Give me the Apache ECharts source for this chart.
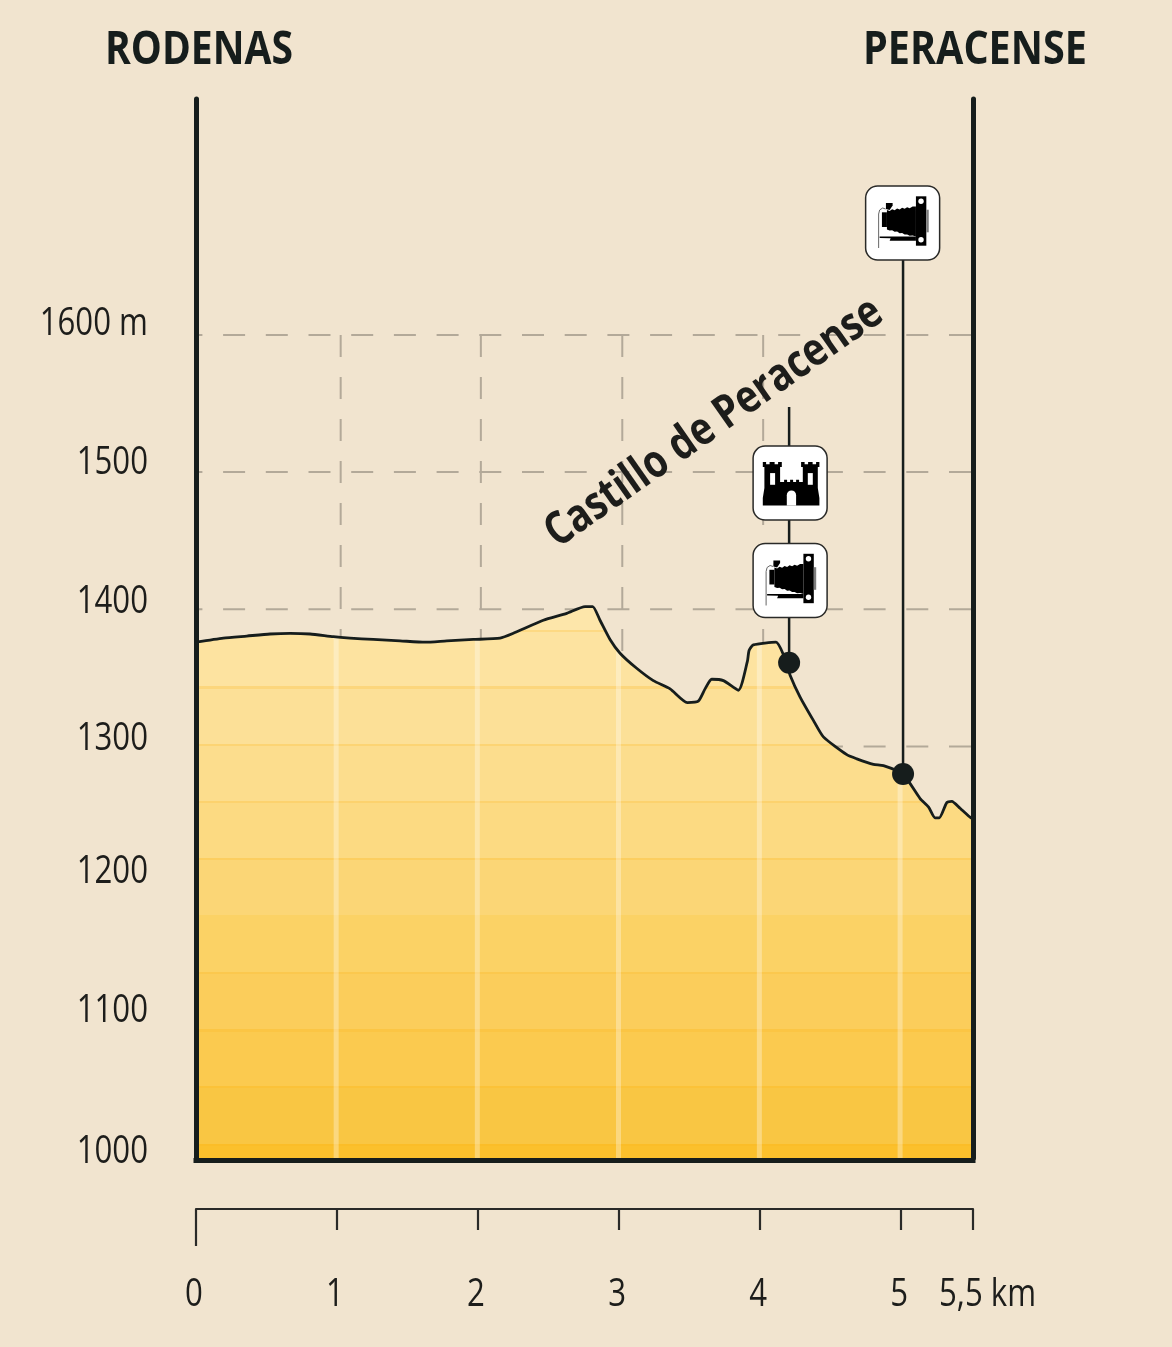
<!DOCTYPE html>
<html>
<head>
<meta charset="utf-8">
<title>Rodenas - Peracense</title>
<script src="https://cdn.jsdelivr.net/npm/echarts@6/dist/echarts.min.js"></script>
<style>
  html, body { margin: 0; padding: 0; background: #f1e4cf; }
  #chart { width: 1172px; height: 1347px; }
</style>
</head>
<body>
<div id="chart"></div>
<script>
// profile: [km, metres]
const profile = [
  [0, 1376], [0.194, 1379], [0.36, 1380.5], [0.525, 1382], [0.667, 1382.5], [0.809, 1382],
  [0.974, 1380], [1.092, 1379], [1.257, 1378], [1.447, 1377], [1.624, 1376], [1.778, 1377],
  [1.967, 1378], [2.156, 1379], [2.25, 1382.5], [2.463, 1392], [2.629, 1397], [2.759, 1402],
  [2.813, 1402], [2.865, 1392], [2.936, 1378], [3.007, 1368], [3.125, 1357], [3.243, 1348],
  [3.362, 1342], [3.484, 1332], [3.562, 1333], [3.61, 1342], [3.657, 1349], [3.74, 1348],
  [3.846, 1341], [3.91, 1362], [3.922, 1370], [3.952, 1374], [4.113, 1376], [4.165, 1367],
  [4.213, 1352], [4.284, 1336], [4.378, 1319], [4.449, 1307], [4.615, 1294], [4.686, 1291],
  [4.804, 1287], [4.875, 1286], [5.012, 1280], [5.135, 1262], [5.194, 1256], [5.241, 1248],
  [5.271, 1248], [5.324, 1259], [5.36, 1260], [5.418, 1255], [5.494, 1248], [5.51, 1247]
]
const kmEnd = 5.51 // the right wall sits a little past 5,5 at the drawing's scale
const altTop = 1772
const altTicks = [1000, 1100, 1200, 1300, 1400, 1500, 1600]
const altLabels = ['1000', '1100', '1200', '1300', '1400', '1500', '1600 m']
const altLabelNudge = [-6, -10, -12, -8, -7, -9, -11] // the labels do not sit evenly in the original
const kmTicks = [1, 2, 3, 4, 5, kmEnd]
const kmLabelValues = [0, 1, 2, 3, 4, 5]
const gridAlts = [1300, 1400, 1500, 1600]
const gridKms = [1.026, 2.02, 3.023, 4.022]
const stripeKms = [0.994, 1.995, 2.996, 3.995, 4.993]
const stripeTops = [1380, 1378, 1369, 1375, 1281]
const bandEdges = [1384, 1343, 1301, 1259.5, 1218, 1176.5, 1135, 1093, 1052, 1009.5]
const bandColors = ['#fde6aa', '#fde3a0', '#fce097', '#fcdd8d', '#fcda82', '#fbd676', '#fbd265', '#fbcd5b', '#fbca4f', '#f9c643', '#fbc02c']
const bandLines = ['#fdd983', '#fcd67c', '#fcd474', '#fcd26e', '#fcce60', '#fbd265', '#fbc84e', '#fbc544', '#fbc238', '#fbbd28']
// stems and pictograms
const stems = [
  { km: 4.206, from: 1547.5, to: 1361 },
  { km: 5.014, from: 1681.6, to: 1280 }
]
const pictos = [
  [4.213, 1492, 'castle'],
  [4.213, 1421, 'camera'],
  [5.011, 1681.6, 'camera']
]

const ink = '#161d1c'
const textColor = '#1d1d1b'
const font = '"Open Sans"'
const labelFont = '400 39px ' + font
const labelScale = 0.8

// gradient of the filled area, with thin darker lines between the steps
function areaGradient () {
  const peak = Math.max(...profile.map(p => p[1]))
  const frac = v => (peak - v) / (peak - 1000)
  const stops = [{ offset: 0, color: bandColors[0] }]
  bandEdges.forEach((edge, i) => {
    const f = frac(edge)
    stops.push({ offset: f - 0.002, color: bandColors[i] })
    stops.push({ offset: f - 0.002, color: bandLines[i] })
    stops.push({ offset: f + 0.002, color: bandLines[i] })
    stops.push({ offset: f + 0.002, color: bandColors[i + 1] })
  })
  stops.push({ offset: 1, color: bandColors[bandColors.length - 1] })
  return new echarts.graphic.LinearGradient(0, 0, 0, 1, stops)
}

function rect (x, y, w, h, fill) {
  return { type: 'rect', shape: { x: x, y: y, width: w, height: h }, style: { fill: fill } }
}
function dot (cx, cy, r, fill) {
  return { type: 'circle', shape: { cx: cx, cy: cy, r: r }, style: { fill: fill } }
}
function poly (points, fill) {
  return { type: 'polygon', shape: { points: points }, style: { fill: fill } }
}

const castleIcon = [
  poly([[-27.3, -21], [-24, -21], [-24, -18.8], [-20.5, -18.8], [-20.5, -21], [-15.5, -21], [-15.5, -18.8], [-12, -18.8], [-12, -21], [-8.3, -21], [-8.3, -16], [-10, -16], [-10, -1],
    [-6, -1], [-6, -3.3], [-3, -3.3], [-3, -1], [0, -1], [0, -3.3], [3, -3.3], [3, -1], [6, -1], [6, -3.3], [9, -3.3], [9, -1], [12.7, -1],
    [12.7, -16], [11, -16], [11, -21], [14.5, -21], [14.5, -18.8], [18, -18.8], [18, -21], [22.5, -21], [22.5, -18.8], [26, -18.8], [26, -21], [29.3, -21], [29.3, -16], [27.7, -16],
    [27.7, 5], [29.3, 15], [29.3, 22.3], [-27.3, 22.3], [-27.3, 15], [-25.7, 5], [-25.7, -16], [-27.3, -16]], '#000'),
  rect(-20, -10, 5, 11.7, '#fff'),
  rect(17.7, -10, 5, 11.7, '#fff'),
  rect(-3.3, 12, 9.3, 10.5, '#fff'),
  dot(1.35, 12, 4.65, '#fff')
]
const cameraIcon = [
  rect(13.3, -26.7, 10.4, 49.4, '#000'),
  rect(23.7, -13.3, 2.4, 22.6, '#7d7d7d'),
  dot(18.4, -21.7, 2.7, '#fff'),
  dot(18.4, 16.7, 2.7, '#fff'),
  poly([[-15.7, -13], [-13, -12], [-10.5, -13.8], [-8, -12.8], [-5.5, -14.6], [-3, -13.6], [-0.5, -15.2], [2, -14.2], [4.5, -15.8], [7, -14.8], [10, -16.4], [13.3, -16.4],
    [13.3, 13.5], [10, 12.5], [7, 12.8], [4.5, 11.4], [2, 11.6], [-0.5, 10], [-3, 10.2], [-5.5, 8.6], [-8, 8.8], [-10.5, 7.2], [-13, 7.4], [-15.7, 6.5]], '#000'),
  rect(-20.7, -10.7, 5, 14.7, '#000'),
  poly([[-16.7, -20], [-10, -20], [-10, -17.5], [-13, -13], [-16.7, -14]], '#000'),
  poly([[-23, 13.5], [13.3, 13.5], [13.3, 17.7], [-13, 17.7], [-12, 15.2], [-23, 15]], '#000'),
  { type: 'polyline', shape: { points: [[-24, 25], [-24, -9], [-23, -13], [-20, -15], [-17, -14]] }, style: { fill: null, stroke: '#666', lineWidth: 1 } }
]

function renderPicto (params, api) {
  const c = api.coord([api.value(0), api.value(1)])
  const kind = pictos[params.dataIndex][2]
  return {
    type: 'group',
    x: c[0],
    y: c[1],
    children: [{
      type: 'rect',
      shape: { x: -37, y: -37, width: 74, height: 74, r: 12 },
      style: { fill: '#fff', stroke: '#2a2a28', lineWidth: 1.5 }
    }].concat(kind === 'castle' ? castleIcon : cameraIcon)
  }
}

// narrow tick labels: the installed fonts are too wide, so they are squeezed here
function narrowText (x, y, text, align) {
  return {
    type: 'text',
    x: x,
    y: y,
    scaleX: labelScale,
    style: { text: text, font: labelFont, fill: textColor, align: align, verticalAlign: 'middle' }
  }
}
function renderAltLabel (params, api) {
  const c = api.coord([0, api.value(0)])
  return narrowText(c[0] - 48, c[1] + altLabelNudge[params.dataIndex], altLabels[params.dataIndex], 'right')
}
function renderKmLabel (params, api) {
  const c = api.coord([api.value(0), 1000])
  return narrowText(c[0] - 2, c[1] + 137, String(kmLabelValues[params.dataIndex]), 'center')
}
function renderEndLabel (params, api) {
  const c = api.coord([api.value(0), 1000])
  return narrowText(c[0] - 34, c[1] + 137, '5,5 km', 'left')
}

function labelSeries (data, renderItem) {
  return { type: 'custom', data: data, z: 8, silent: true, animation: false, clip: false, renderItem: renderItem }
}

function plainLine (data, z, lineStyle) {
  return {
    type: 'line',
    data: data,
    z: z,
    symbol: 'none',
    silent: true,
    animation: false,
    clip: false,
    lineStyle: lineStyle
  }
}

const series = []
// dashed grid, under the fill
gridAlts.forEach(a => {
  series.push(plainLine([[0, a], [kmEnd, a]], 0, { color: '#b3a999', width: 2, type: [22, 20.7], dashOffset: 15.6 }))
})
gridKms.forEach(k => {
  series.push(plainLine([[k, 1600], [k, 1000]], 0, { color: '#b3a999', width: 2, type: [22, 20] }))
})
// fill
series.push({
  type: 'line',
  data: profile,
  z: 1,
  symbol: 'none',
  silent: true,
  animation: false,
  lineStyle: { width: 0 },
  areaStyle: { color: areaGradient(), opacity: 1 }
})
// light stripes at each km
stripeKms.forEach((k, i) => {
  series.push(plainLine([[k, stripeTops[i]], [k, 1000]], 2, { color: 'rgba(255,255,255,0.32)', width: 5 }))
})
// profile line
series.push(Object.assign(plainLine(profile, 3, { color: ink, width: 2.8, join: 'round' }), { smooth: 0.2 }))
// stems, pictograms and dots
stems.forEach(s => {
  series.push(plainLine([[s.km, s.from], [s.km, s.to]], 4, { color: ink, width: 2.5 }))
})
series.push({
  type: 'custom',
  data: pictos.map(p => [p[0], p[1]]),
  z: 5,
  silent: true,
  animation: false,
  clip: false,
  renderItem: renderPicto
})
series.push({
  type: 'scatter',
  data: stems.map(s => [s.km, s.to]),
  z: 6,
  symbolSize: 22,
  silent: true,
  animation: false,
  itemStyle: { color: ink, opacity: 1 }
})
series.push(labelSeries(altTicks.map(v => [v]), renderAltLabel))
series.push(labelSeries(kmLabelValues.map(v => [v]), renderKmLabel))
series.push(labelSeries([[kmEnd]], renderEndLabel))

const chart = echarts.init(document.getElementById('chart'), null, { renderer: 'canvas' })
chart.setOption({
  backgroundColor: '#f1e4cf',
  animation: false,
  grid: { left: 196, right: 199, top: 99, bottom: 189 },
  xAxis: [
    {
      // bottom edge of the plot
      type: 'value', min: 0, max: kmEnd, position: 'bottom', offset: 2, z: 7,
      axisLine: { show: true, onZero: false, lineStyle: { color: ink, width: 5, cap: 'square' } },
      axisTick: { show: false },
      axisLabel: { show: false },
      splitLine: { show: false }
    },
    {
      // km ruler
      type: 'value', min: 0, max: kmEnd, position: 'bottom', offset: 51,
      axisLine: { show: true, onZero: false, lineStyle: { color: '#2a2a28', width: 2.2 } },
      axisTick: { show: true, customValues: kmTicks, length: 21, lineStyle: { color: '#2a2a28', width: 2.2 } },
      axisLabel: { show: false },
      splitLine: { show: false }
    },
    {
      // the longer tick at 0
      type: 'value', min: 0, max: kmEnd, position: 'bottom', offset: 51,
      axisLine: { show: false, onZero: false },
      axisTick: { show: true, customValues: [0], length: 37, lineStyle: { color: '#2a2a28', width: 2.2 } },
      axisLabel: { show: false },
      splitLine: { show: false }
    }
  ],
  yAxis: [
    {
      type: 'value', min: 1000, max: altTop, position: 'left', z: 7,
      axisLine: { show: true, onZero: false, lineStyle: { color: ink, width: 5, cap: 'round' } },
      axisTick: { show: false },
      axisLabel: { show: false },
      splitLine: { show: false }
    },
    {
      type: 'value', min: 1000, max: altTop, position: 'right', z: 7,
      axisLine: { show: true, onZero: false, lineStyle: { color: ink, width: 5, cap: 'round' } },
      axisTick: { show: false },
      axisLabel: { show: false },
      splitLine: { show: false }
    }
  ],
  graphic: [
    { type: 'text', x: 105, y: 51, z: 10, scaleX: 0.85, style: { text: 'RODENAS', font: 'bold 46px ' + font, fill: ink, verticalAlign: 'middle' } },
    { type: 'text', x: 863, y: 51, z: 10, scaleX: 0.86, style: { text: 'PERACENSE', font: 'bold 46px ' + font, fill: ink, verticalAlign: 'middle' } },
    {
      type: 'text', x: 714, y: 423, rotation: 35 * Math.PI / 180, z: 10, scaleX: 0.823,
      style: { text: 'Castillo de Peracense', font: 'bold 46px ' + font, fill: textColor, align: 'center', verticalAlign: 'middle' }
    }
  ],
  series: series
})
</script>
</body>
</html>
